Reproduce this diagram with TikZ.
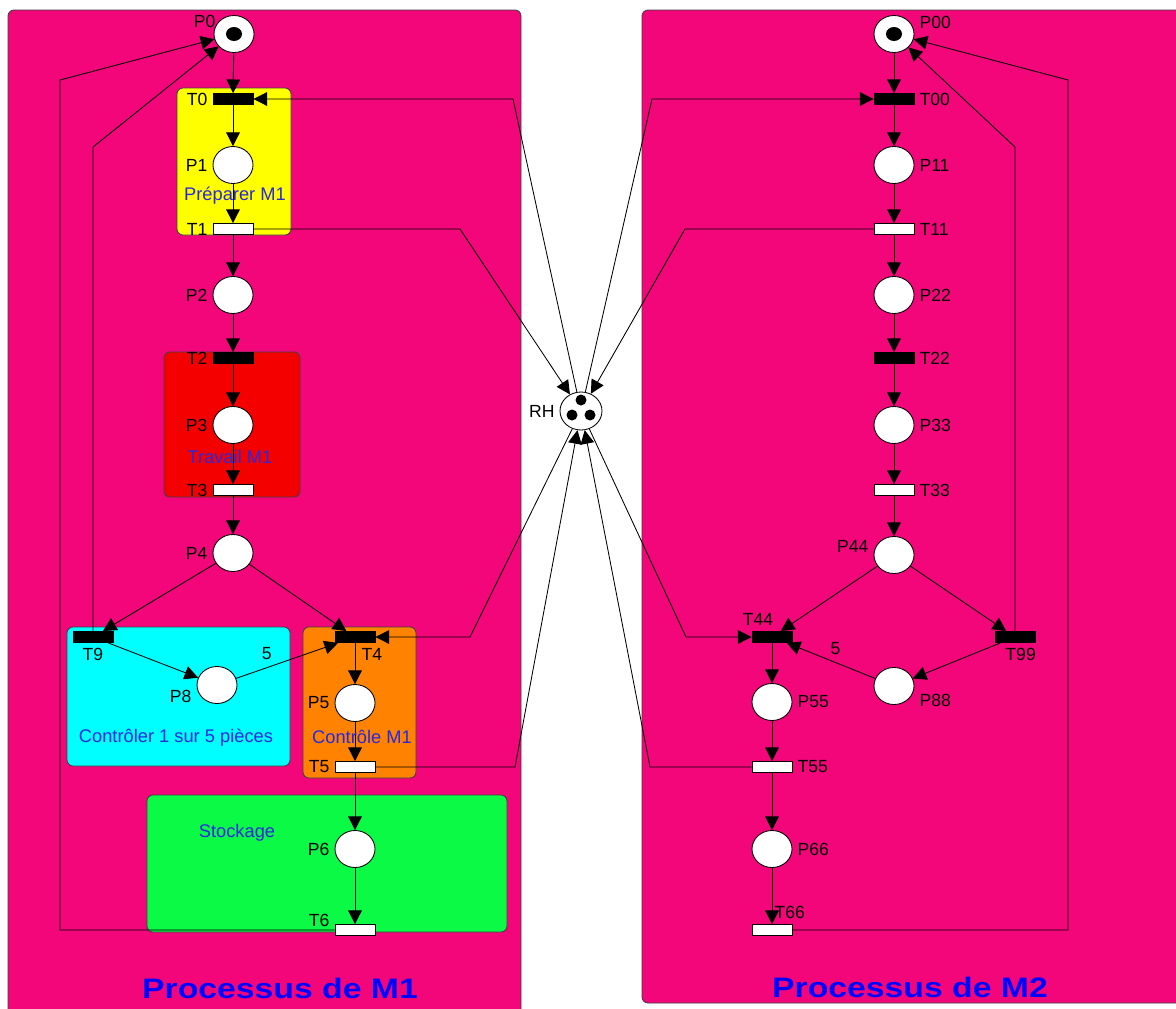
\documentclass[tikz,border=0pt]{standalone}
\usepackage{fontspec}
\setmainfont{Liberation Sans}
\usetikzlibrary{arrows.meta,shapes.geometric}
\definecolor{fond}{RGB}{242,6,122}
\definecolor{jaune}{RGB}{255,255,0}
\definecolor{rouge}{RGB}{245,0,0}
\definecolor{turquoise}{RGB}{0,255,255}
\definecolor{orangeM}{RGB}{255,130,0}
\definecolor{vert}{RGB}{10,250,70}
\definecolor{bleu}{RGB}{40,40,225}
\begin{document}
\begin{tikzpicture}[x=0.025cm, y=-0.025cm, >={Triangle[length=0.34cm,width=0.34cm]}, line width=0.6pt,
	font=\fontsize{12.5}{14}\selectfont,
	place/.style={ellipse, draw, fill=white, minimum width=1cm, minimum height=0.925cm, inner sep=0pt},
	trn/.style={rectangle, draw, fill=black, minimum width=1cm, minimum height=0.275cm, inner sep=0pt},
	trb/.style={trn, fill=white},
	zone/.style={draw=black!75, rounded corners=0.15cm},
	txt/.style={font=\fontsize{13}{15}\selectfont, text=bleu},
	titre/.style={font=\fontsize{20}{24}\selectfont\bfseries, text=blue, xscale=1.2}]
	\useasboundingbox (0,0) rectangle (1176,1008);
	\fill[white] (0,0) rectangle (1176,1008);
	
	% panneaux des deux processus
	\draw[zone, fill=fond] (8,10) rectangle (521,1030);
	\draw[zone, fill=fond] (642,10) rectangle (1210,1003);
	
	% zones colorees
	\draw[zone, fill=jaune] (177,88) rectangle (291,235);
	\draw[zone, fill=rouge] (164,352) rectangle (300,497);
	\draw[zone, fill=turquoise] (67,627) rectangle (290,766);
	\draw[zone, fill=orangeM] (303,627) rectangle (416,778);
	\draw[zone, fill=vert] (147,795) rectangle (507,932);
	
	% reseau M1
	\node[place, label={[xshift=5pt,yshift=9pt]left:P0}] (P0) at (234,34) {};
	\node[trn, label=left:T0] (T0) at (233,99) {};
	\node[place, label=left:P1] (P1) at (233,165) {};
	\node[trb, label=left:T1] (T1) at (233,229) {};
	\node[place, label=left:P2] (P2) at (233,295) {};
	\node[trn, label=left:T2] (T2) at (233,358) {};
	\node[place, label=left:P3] (P3) at (233,425) {};
	\node[trb, label=left:T3] (T3) at (233,490) {};
	\node[place, label=left:P4] (P4) at (233,553) {};
	\node[trn, label=below:T9] (T9) at (93,637) {};
	\node[place, label={[yshift=-8pt]left:P8}] (P8) at (217,685) {};
	\node[trn, label={[xshift=12pt]below:T4}] (T4) at (355,637) {};
	\node[place, label=left:P5] (P5) at (355,703) {};
	\node[trb, label=left:T5] (T5) at (355,767) {};
	\node[place, label=left:P6] (P6) at (355,849) {};
	\node[trb, label={[yshift=7pt]left:T6}] (T6) at (355,930) {};
	
	% reseau M2
	\node[place, label={[yshift=8pt]right:P00}] (P00) at (894,34) {};
	\node[trn, label=right:T00] (T00) at (894,99) {};
	\node[place, label=right:P11] (P11) at (894,165) {};
	\node[trb, label=right:T11] (T11) at (894,229) {};
	\node[place, label=right:P22] (P22) at (894,295) {};
	\node[trn, label=right:T22] (T22) at (894,358) {};
	\node[place, label=right:P33] (P33) at (894,425) {};
	\node[trb, label=right:T33] (T33) at (894,490) {};
	\node[place, label={[yshift=6pt]left:P44}] (P44) at (894,555) {};
	\node[trn, label={[xshift=-10pt]above:T44}] (T44) at (772,637) {};
	\node[trn, label={[xshift=4pt]below:T99}] (T99) at (1015,637) {};
	\node[place, label={[yshift=-10pt]right:P88}] (P88) at (894,686) {};
	\node[place, label=right:P55] (P55) at (772,702) {};
	\node[trb, label=right:T55] (T55) at (772,767) {};
	\node[place, label=right:P66] (P66) at (772,849) {};
	\node[trb, label={[xshift=-6pt]above right:T66}] (T66) at (772,930) {};
	
	% ressource partagee
	\node[place, minimum width=1.05cm, minimum height=0.95cm, label=left:RH] (RH) at (581,411) {};
	
	% jetons
	\fill (P0) ellipse [x radius=8, y radius=7];
	\fill (P00) ellipse [x radius=8, y radius=7];
	\fill (581,400) circle (5.5) (572,415) circle (5.5) (590,415) circle (5.5);
	
	% arcs directs
	\foreach \a/\b in {P0/T0,T0/P1,P1/T1,T1/P2,P2/T2,T2/P3,P3/T3,T3/P4,P4/T9,P4/T4,T9/P8,T4/P5,P5/T5,T5/P6,P6/T6,
		P00/T00,T00/P11,P11/T11,T11/P22,P22/T22,T22/P33,P33/T33,T33/P44,P44/T44,P44/T99,T99/P88,T44/P55,P55/T55,T55/P66,P66/T66}
		\draw[->] (\a) -- (\b);
	\draw[->] (P8) -- node[pos=0.3, above=2pt] {5} (T4);
	\draw[->] (P88) -- node[pos=0.45, above=2pt] {5} (T44);
	
	% retours vers P0 et P00
	\coordinate (c1) at (60,80);
	\coordinate (c2) at (93,147);
	\draw[->] (T6.west) -| (c1) -- (P0);
	\draw[->] (T9.north) -- (c2) -- (P0);
	\coordinate (c7) at (1068,80);
	\coordinate (c8) at (1015,147);
	\draw[->] (T66.east) -| (c7) -- (P00);
	\draw[->] (T99.north) -- (c8) -- (P00);
	
	% arcs de la ressource RH
	\coordinate (c3) at (513,99);
	\coordinate (c4) at (460,229);
	\coordinate (c5) at (470,637);
	\coordinate (c6) at (515,767);
	\draw[->] (RH) -- (c3) -- (T0.east);
	\draw[->] (T1.east) -- (c4) -- (RH);
	\draw[->] (RH) -- (c5) -- (T4.east);
	\draw[->] (T5.east) -- (c6) -- (RH);
	\coordinate (c9) at (652,99);
	\coordinate (c10) at (685,229);
	\coordinate (c11) at (686,637);
	\coordinate (c12) at (650,767);
	\draw[->] (RH) -- (c9) -- (T00.west);
	\draw[->] (T11.west) -- (c10) -- (RH);
	\draw[->] (RH) -- (c11) -- (T44.west);
	\draw[->] (T55.west) -- (c12) -- (RH);
	
	% textes
	\node[txt] (tPrep) at (235,196) {Préparer M1};
	\node[txt] (tTrav) at (230,457) {Travail M1};
	\node[txt] (tCtrl) at (176,738) {Contrôler 1 sur 5 pièces};
	\node[txt] (tCM1) at (362,737) {Contrôle M1};
	\node[txt] (tStock) at (237,833) {Stockage};
	\node[titre] (titre1) at (280,988) {Processus de M1};
	\node[titre] (titre2) at (910,987) {Processus de M2};
\end{tikzpicture}
\end{document}
